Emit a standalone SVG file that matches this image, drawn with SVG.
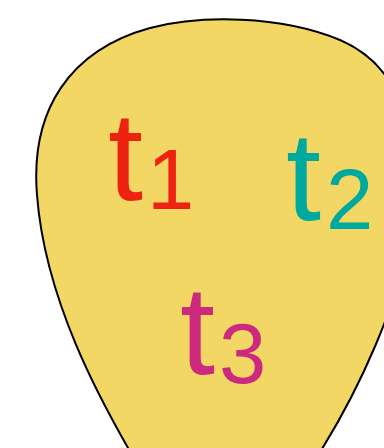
<svg xmlns="http://www.w3.org/2000/svg" width="384" height="448" viewBox="0 0 384 448">
<style>
.blob{fill:#F2D764;stroke:#000;stroke-width:2}
.t{font-family:"Liberation Sans",Arial,sans-serif;font-size:126px}
.s{font-family:"Liberation Sans",Arial,sans-serif;font-size:85px}
</style>
<rect width="384" height="448" fill="#fff"/>
<g id="region">
<path class="blob" d="M135 460 C100 400 45 300 37 195 C30 110 70 50 150 28 C200 15 280 15 340 40 C410 70 420 150 410 230 C400 300 360 390 315 460 Z"/>
</g>
<g id="t1" fill="#EE2211">
<text class="t" x="108" y="200">t</text>
<text class="s" x="147" y="209">1</text>
</g>
<g id="t2" fill="#00A99D">
<text class="t" x="286" y="220">t</text>
<text class="s" x="326" y="229">2</text>
</g>
<g id="t3" fill="#CC2A7E">
<text class="t" x="180" y="374">t</text>
<text class="s" x="219" y="383">3</text>
</g>
<g id="connectors"/>
</svg>
